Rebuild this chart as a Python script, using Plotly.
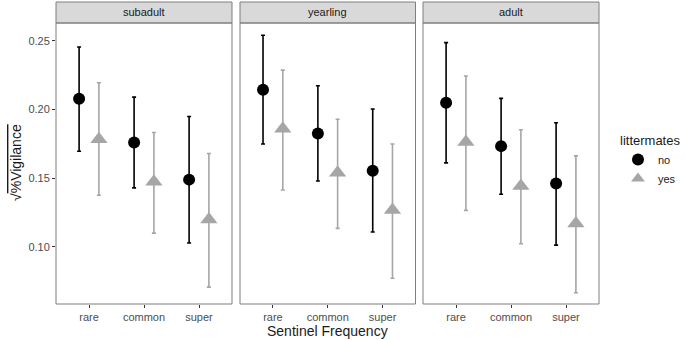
import plotly.graph_objects as go

# ---- data ----
stages = ["subadult", "yearling", "adult"]
categories = ["rare", "common", "super"]
groups = ["no", "yes"]

# mean, upper, lower per stage, per group (ordered by categories)
no_mean = {"subadult": [0.208, 0.176, 0.149], "yearling": [0.2145, 0.1826, 0.1555], "adult": [0.205, 0.1734, 0.1462]}
no_upper = {"subadult": [0.2456, 0.2091, 0.195], "yearling": [0.2542, 0.2174, 0.2005], "adult": [0.2488, 0.2082, 0.1904]}
no_lower = {"subadult": [0.1697, 0.1430, 0.1028], "yearling": [0.1750, 0.1480, 0.1108], "adult": [0.1612, 0.1383, 0.1013]}

yes_mean = {"subadult": [0.1785, 0.1475, 0.1200], "yearling": [0.1860, 0.1540, 0.1268], "adult": [0.1765, 0.1444, 0.1170]}
yes_upper = {"subadult": [0.2196, 0.1833, 0.1680], "yearling": [0.2288, 0.1930, 0.1750], "adult": [0.2245, 0.1853, 0.1663]}
yes_lower = {"subadult": [0.1376, 0.1100, 0.0707], "yearling": [0.1415, 0.1135, 0.0772], "adult": [0.1266, 0.1023, 0.0666]}

y_ticks = [0.10, 0.15, 0.20, 0.25]
y_tick_labels = ["0.10", "0.15", "0.20", "0.25"]

# ---- style ----
W, H = 685, 340
dodge = 0.18
colors = {"no": "#000000", "yes": "#a6a6a6"}
symbols = {"no": "circle", "yes": "triangle-up"}
sizes = {"no": 12, "yes": 15}
panel_px = [(56, 232), (240, 415.5), (423, 599)]
plot_top, plot_bot = 23, 304
strip_top = 2
yrange = [0.0584, 0.2631]

data_sets = {"no": (no_mean, no_upper, no_lower), "yes": (yes_mean, yes_upper, yes_lower)}

fig = go.Figure()
for i, st in enumerate(stages):
    xa = "x" if i == 0 else f"x{i+1}"
    ya = "y" if i == 0 else f"y{i+1}"
    for g in groups:
        mean, up, lo = data_sets[g]
        off = -dodge if g == "no" else dodge
        xs = [k + 1 + off for k in range(len(categories))]
        m = mean[st]
        fig.add_trace(go.Scatter(
            x=xs, y=m, xaxis=xa, yaxis=ya, mode="markers",
            name=g, legendgroup=g, showlegend=(i == 0),
            marker=dict(symbol=symbols[g], size=sizes[g], color=colors[g], line=dict(width=0)),
            error_y=dict(type="data", symmetric=False,
                         array=[u - v for u, v in zip(up[st], m)],
                         arrayminus=[v - l for v, l in zip(m, lo[st])],
                         color=colors[g], thickness=1.6, width=2),
        ))

layout = dict(
    width=W, height=H, margin=dict(l=0, r=0, t=0, b=0),
    paper_bgcolor="white", plot_bgcolor="white",
    font=dict(family="Liberation Sans, Arial, sans-serif", color="#4d4d4d"),
    showlegend=True,
    legend=dict(
        title=dict(text="littermates", font=dict(size=13, color="#1a1a1a")),
        x=618 / W, y=1 - 128 / H, xanchor="left", yanchor="top",
        font=dict(size=11, color="#1a1a1a"), tracegroupgap=0, itemsizing="constant",
        itemwidth=30, bgcolor="rgba(0,0,0,0)",
    ),
)

shapes = []
annotations = []
for i, (x0, x1) in enumerate(panel_px):
    sfx = "" if i == 0 else str(i + 1)
    layout["xaxis" + sfx] = dict(
        domain=[x0 / W, x1 / W], range=[0.4, 3.6],
        tickvals=[1, 2, 3], ticktext=categories,
        ticks="outside", ticklen=3, tickcolor="#333333", tickwidth=1,
        tickfont=dict(size=11, color="#4d4d4d"),
        showgrid=False, zeroline=False, showline=False,
        anchor="y" + sfx,
    )
    layout["yaxis" + sfx] = dict(
        domain=[1 - plot_bot / H, 1 - plot_top / H], range=yrange,
        tickvals=y_ticks, ticktext=y_tick_labels,
        showticklabels=(i == 0),
        ticks="outside" if i == 0 else "", ticklen=3, tickcolor="#333333", tickwidth=1,
        tickfont=dict(size=11, color="#4d4d4d"),
        showgrid=False, zeroline=False, showline=False,
        anchor="x" + sfx,
    )
    # panel border
    shapes.append(dict(type="rect", xref="paper", yref="paper",
                       x0=x0 / W, x1=x1 / W, y0=1 - plot_bot / H, y1=1 - plot_top / H,
                       line=dict(color="#7f7f7f", width=1), fillcolor="rgba(0,0,0,0)", layer="above"))
    # strip
    shapes.append(dict(type="rect", xref="paper", yref="paper",
                       x0=x0 / W, x1=x1 / W, y0=1 - plot_top / H, y1=1 - strip_top / H,
                       line=dict(color="#7f7f7f", width=1), fillcolor="#d9d9d9", layer="below"))
    annotations.append(dict(text=stages[i], xref="paper", yref="paper",
                            x=(x0 + x1) / 2 / W, y=1 - (strip_top + plot_top) / 2 / H,
                            showarrow=False, xanchor="center", yanchor="middle",
                            font=dict(size=11, color="#1a1a1a")))

annotations.append(dict(text="Sentinel Frequency", xref="paper", yref="paper",
                        x=(56 + 599) / 2 / W, y=1 - 331 / H, showarrow=False,
                        xanchor="center", yanchor="middle",
                        font=dict(size=14, color="#1a1a1a")))
annotations.append(dict(text="√<span style='text-decoration:overline'>%Vigilance</span>",
                        xref="paper", yref="paper",
                        x=16 / W, y=1 - 163 / H, showarrow=False, textangle=-90,
                        xanchor="center", yanchor="middle",
                        font=dict(size=14, color="#1a1a1a")))

layout["shapes"] = shapes
layout["annotations"] = annotations
fig.update_layout(**layout)
fig.write_html("out.html", config={"displayModeBar": False},
               post_script="document.body.style.margin='0px';document.body.style.overflow='hidden';")
